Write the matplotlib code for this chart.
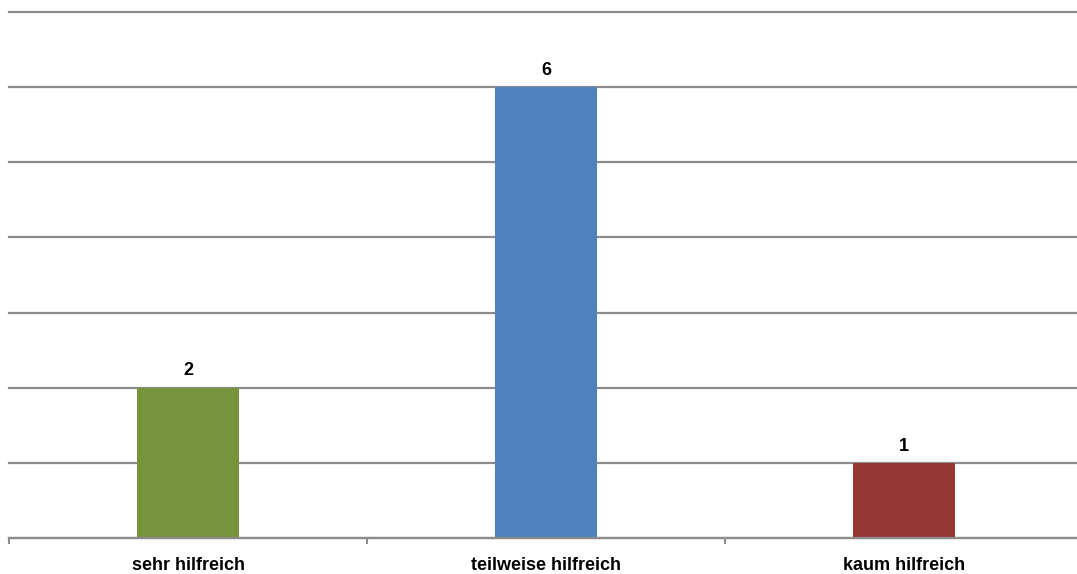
import matplotlib.pyplot as plt
import numpy as np

categories = ["sehr hilfreich", "teilweise hilfreich", "kaum hilfreich"]
values = [2, 6, 1]
bar_colors = ["#77933C", "#4F81BD", "#953735"]
y_max = 7

fig = plt.figure(figsize=(10.77, 5.74), dpi=100)
ax = fig.add_axes([9 / 1077, 1 - 538 / 574, 1074 / 1077, 526 / 574])

x = np.arange(len(categories))
ax.bar(x, values, width=0.285, color=bar_colors, zorder=3)

for xi, v in zip(x, values):
    ax.annotate(str(v), (xi, v), xytext=(0, 6), textcoords="offset points",
                ha="center", va="bottom", fontsize=13, fontweight="bold",
                family="Liberation Sans")

ax.set_xlim(-0.5, len(categories) - 0.5)
ax.set_ylim(0, y_max)
ax.set_yticks(np.arange(0, y_max + 1))
ax.yaxis.set_ticklabels([])
ax.tick_params(axis="y", length=0)
ax.grid(axis="y", color="#8c8c8c", linewidth=1.6, zorder=0)
for gl in ax.get_ygridlines():
    gl.set_clip_on(False)

ax.set_xticks(x)
ax.set_xticklabels(categories, fontsize=13, fontweight="bold", family="Liberation Sans")
ax.tick_params(axis="x", length=0, pad=14)
ax.set_xticks(np.arange(-0.5, len(categories), 1), minor=True)
ax.tick_params(axis="x", which="minor", length=4, width=1.5, color="#8c8c8c", direction="out")

for side in ("top", "right", "left"):
    ax.spines[side].set_visible(False)
ax.spines["bottom"].set_color("#8c8c8c")
ax.spines["bottom"].set_linewidth(1.6)
ax.spines["bottom"].set_zorder(4)

fig.savefig("out.png", dpi=100)
